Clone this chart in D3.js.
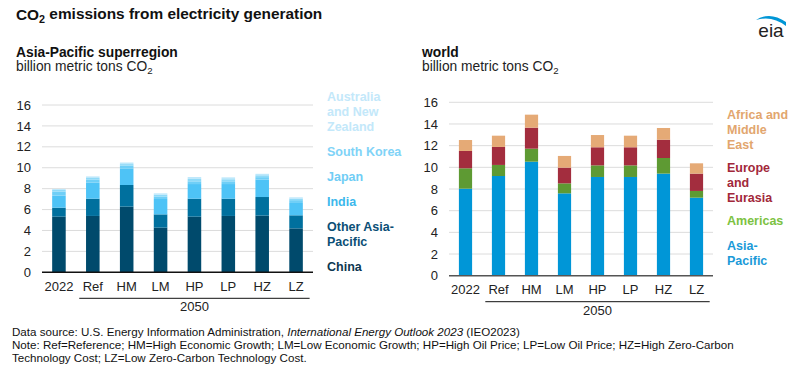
<!DOCTYPE html>
<html>
<head>
<meta charset="utf-8">
<script src="https://cdn.jsdelivr.net/npm/d3@7"></script>
<style>
  body { margin: 0; background: #fff; }
  svg { font-family: "Liberation Sans", Arial, sans-serif; }
</style>
</head>
<body>
<svg id="chart" width="800" height="377"></svg>
<script>
// categories
var scenarios = ["2022", "Ref", "HM", "LM", "HP", "LP", "HZ", "LZ"];
var yTicks = [0, 2, 4, 6, 8, 10, 12, 14, 16];

// Asia-Pacific superregion, billion metric tons CO2
var apSeries = ["China", "Other Asia-Pacific", "India", "Japan", "South Korea", "Australia and New Zealand"];
var china     = [5.32, 5.39, 6.28, 4.27, 5.32, 5.39, 5.42, 4.20];
var otherAP   = [0.86, 1.65, 2.07, 1.27, 1.72, 1.65, 1.78, 1.25];
var india     = [1.15, 1.53, 1.55, 1.47, 1.40, 1.40, 1.66, 1.18];
var japan     = [0.39, 0.30, 0.30, 0.24, 0.26, 0.26, 0.24, 0.27];
var korea     = [0.15, 0.15, 0.15, 0.17, 0.23, 0.20, 0.18, 0.15];
var australia = [0.10, 0.15, 0.15, 0.13, 0.18, 0.18, 0.14, 0.12];

// world, billion metric tons CO2
var worldSeries = ["Asia-Pacific", "Americas", "Europe and Eurasia", "Africa and Middle East"];
var asiaPacific = [8.03, 9.20, 10.52, 7.60, 9.11, 9.11, 9.42, 7.20];
var americas    = [1.88, 1.02, 1.20, 0.92, 1.07, 1.07, 1.44, 0.62];
var europe      = [1.60, 1.66, 1.94, 1.45, 1.67, 1.67, 1.69, 1.60];
var africa      = [1.01, 1.04, 1.20, 1.08, 1.13, 1.07, 1.08, 0.95];

var svg = d3.select("#chart");

function co2Text(sel, before, after) {
  sel.append("tspan").text(before + "CO");
  sel.append("tspan").attr("font-size", "0.7em").attr("dy", "0.3em").text("2");
  if (after) sel.append("tspan").attr("dy", "-0.3em").text(after);
}

// title
co2Text(svg.append("text").attr("x", 16).attr("y", 20)
  .attr("font-size", 15.4).attr("font-weight", "bold").attr("fill", "#111"),
  "", " emissions from electricity generation");

// eia logo
var logo = svg.append("g").attr("transform", "translate(770,33)");
logo.append("path")
  .attr("d", "M-14,-13 Q0,-22 16,-11 L16,-7 Q2,-18 -14,-13 Z")
  .attr("fill", "#0096d6");
logo.append("text").attr("text-anchor", "middle").attr("x", 1).attr("y", 4)
  .attr("font-size", 19).attr("fill", "#222").text("eia");

function drawPanel(opt) {
  var g = svg.append("g");
  g.append("text").attr("x", opt.titleX).attr("y", 57)
    .attr("font-size", 13.8).attr("font-weight", "bold").attr("fill", "#111").text(opt.title);
  co2Text(g.append("text").attr("x", opt.titleX).attr("y", 71)
    .attr("font-size", 13.8).attr("fill", "#222"), "billion metric tons ", "");

  var x = d3.scaleBand().domain(scenarios).range([opt.x0, opt.x1]).paddingInner(0.6).paddingOuter(0.3);
  var y = d3.scaleLinear().domain([0, 16]).range([opt.y0, opt.y1]);

  // grid
  g.selectAll(".grid").data(yTicks.slice(1)).enter().append("line")
    .attr("x1", opt.x0).attr("x2", opt.x1)
    .attr("y1", function(d) { return y(d); }).attr("y2", function(d) { return y(d); })
    .attr("stroke", "#dcdcdc").attr("stroke-width", 1);

  // y axis labels
  var yAxis = d3.axisLeft(y).tickValues(yTicks).tickSize(0).tickPadding(opt.x0 - opt.labelX);
  var ya = g.append("g").attr("transform", "translate(" + opt.x0 + ",0)").call(yAxis);
  ya.select(".domain").remove();
  ya.selectAll("text").attr("font-size", 13).attr("fill", "#222")
    .attr("font-family", "Liberation Sans, Arial, sans-serif");

  // stacked bars
  var rows = scenarios.map(function(s, i) {
    var r = { scenario: s };
    opt.keys.forEach(function(k, j) { r[k] = opt.values[j][i]; });
    return r;
  });
  var stack = d3.stack().keys(opt.keys)(rows);
  g.selectAll(".layer").data(stack).enter().append("g")
    .attr("fill", function(d, i) { return opt.colors[i]; })
    .selectAll("rect").data(function(d) { return d; }).enter().append("rect")
    .attr("x", function(d) { return x(d.data.scenario); })
    .attr("width", x.bandwidth())
    .attr("y", function(d) { return y(d[1]); })
    .attr("height", function(d) { return y(d[0]) - y(d[1]); });

  // baseline
  g.append("line").attr("x1", opt.x0).attr("x2", opt.x1)
    .attr("y1", opt.y0).attr("y2", opt.y0)
    .attr("stroke", opt.baseColor).attr("stroke-width", 1.5);

  // x axis labels
  var xAxis = d3.axisBottom(x).tickSize(0).tickPadding(9);
  var xa = g.append("g").attr("transform", "translate(0," + opt.y0 + ")").call(xAxis);
  xa.select(".domain").remove();
  xa.selectAll("text").attr("font-size", 13).attr("fill", "#222")
    .attr("font-family", "Liberation Sans, Arial, sans-serif");

  // 2050 bracket
  var bx0 = x("Ref") - x.step() * 0.2, bx1 = x("LZ") + x.bandwidth() + x.step() * 0.2;
  g.append("line").attr("x1", bx0).attr("x2", bx1)
    .attr("y1", opt.y0 + 26).attr("y2", opt.y0 + 26).attr("stroke", "#111").attr("stroke-width", 1);
  g.append("text").attr("x", (bx0 + bx1) / 2).attr("y", opt.y0 + 39)
    .attr("text-anchor", "middle").attr("font-size", 13).attr("fill", "#222").text("2050");

  // legend
  var lg = g.selectAll(".leg").data(opt.legend).enter().append("text")
    .attr("x", opt.legendX).attr("y", function(d) { return d.y; })
    .attr("font-size", 12.5).attr("font-weight", "bold")
    .attr("fill", function(d) { return d.color; });
  lg.selectAll("tspan").data(function(d) { return d.lines; }).enter().append("tspan")
    .attr("x", opt.legendX).attr("dy", function(d, i) { return i === 0 ? 0 : 15; })
    .text(function(d) { return d; });
}

drawPanel({
  title: "Asia-Pacific superregion", titleX: 16,
  x0: 42, x1: 313, y0: 272.3, y1: 105, labelX: 31,
  keys: apSeries,
  values: [china, otherAP, india, japan, korea, australia],
  colors: ["#004a6c", "#00709e", "#4ec3f6", "#6fcff7", "#8fdaf8", "#bde8fb"],
  baseColor: "#111",
  legendX: 327,
  legend: [
    { lines: ["Australia", "and New", "Zealand"], y: 101, color: "#c3e8fa" },
    { lines: ["South Korea"], y: 155.5, color: "#7fd3f7" },
    { lines: ["Japan"], y: 181, color: "#6fcdf5" },
    { lines: ["India"], y: 206, color: "#3cb8ec" },
    { lines: ["Other Asia-", "Pacific"], y: 231, color: "#0b4f76" },
    { lines: ["China"], y: 271, color: "#0d3750" }
  ]
});

drawPanel({
  title: "world", titleX: 422,
  x0: 449, x1: 713, y0: 275.7, y1: 102.3, labelX: 438,
  keys: worldSeries,
  values: [asiaPacific, americas, europe, africa],
  colors: ["#0096d7", "#5e9a33", "#a32d3e", "#e5aa76"],
  baseColor: "#555",
  legendX: 727,
  legend: [
    { lines: ["Africa and", "Middle", "East"], y: 118.5, color: "#e2a66e" },
    { lines: ["Europe", "and", "Eurasia"], y: 172, color: "#a2283a" },
    { lines: ["Americas"], y: 224.5, color: "#7cc242" },
    { lines: ["Asia-", "Pacific"], y: 249.5, color: "#1a9ad8" }
  ]
});

// footer
var foot = svg.append("g").attr("font-size", 11.6).attr("fill", "#111");
var f1 = foot.append("text").attr("x", 12).attr("y", 336);
f1.append("tspan").text("Data source: U.S. Energy Information Administration,  ");
f1.append("tspan").attr("font-style", "italic").text("International Energy Outlook 2023");
f1.append("tspan").text(" (IEO2023)");
foot.append("text").attr("x", 12).attr("y", 349)
  .text("Note: Ref=Reference; HM=High Economic Growth; LM=Low Economic Growth; HP=High Oil Price; LP=Low Oil Price; HZ=High Zero-Carbon");
foot.append("text").attr("x", 12).attr("y", 362)
  .text("Technology Cost; LZ=Low Zero-Carbon Technology Cost.");
</script>
</body>
</html>
